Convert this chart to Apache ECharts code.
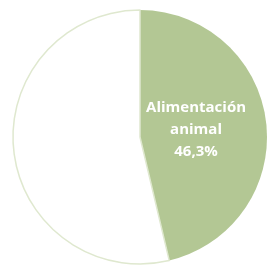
<!DOCTYPE html>
<html>
<head>
<meta charset="utf-8">
<script src="https://cdn.jsdelivr.net/npm/echarts@6/dist/echarts.min.js"></script>
<style>
  html, body { margin: 0; padding: 0; background: #fff; }
  #chart { width: 271px; height: 271px; }
</style>
</head>
<body>
<div id="chart"></div>
<script>
var categories = ['Alimentación animal', 'Otros']
var values = [46.3, 53.7]
var sliceColors = ['#b3c794', '#ffffff']

var chart = echarts.init(document.getElementById('chart'))

var data = categories.map(function (name, i) {
  return {
    name: name,
    value: values[i],
    itemStyle: {
      color: sliceColors[i],
      borderColor: i === 0 ? '#b3c794' : '#dfe8cf',
      borderWidth: i === 0 ? 0 : 1.5
    },
    label: { show: i === 0 }
  }
})

chart.setOption({
  animation: false,
  series: [{
    type: 'pie',
    center: [140, 137],
    radius: [0, 127],
    startAngle: 90,
    clockwise: true,
    silent: true,
    label: {
      position: 'inside',
      color: '#ffffff',
      fontFamily: 'Open Sans',
      fontWeight: 'bold',
      fontSize: 15,
      lineHeight: 22,
      padding: [0, 20, 0, 0],
      formatter: function (p) {
        return 'Alimentación\nanimal\n' + p.value.toFixed(1).replace('.', ',') + '%'
      }
    },
    labelLine: { show: false },
    data: data
  }]
})
</script>
</body>
</html>
